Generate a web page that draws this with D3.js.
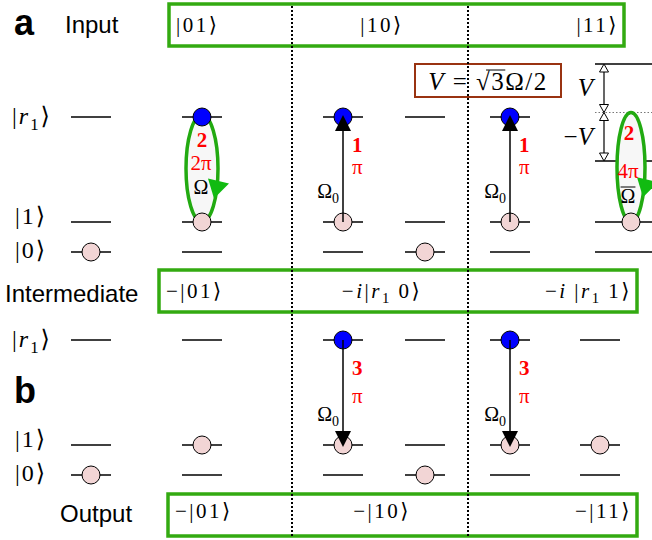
<!DOCTYPE html>
<html>
<head>
<meta charset="utf-8">
<script src="https://cdn.jsdelivr.net/npm/d3@7"></script>
<style>
  body { margin: 0; background: #fff; }
  svg { display: block; }
  .math { font-family: 'Liberation Serif', 'DejaVu Serif', serif; }
  .sans { font-family: 'Liberation Sans', Arial, sans-serif; }
</style>
</head>
<body>
<svg id="chart" width="652" height="540"></svg>
<script>
// ---------- data ----------
// mini markup: *x* = italic, _c = subscript of one char
const levels = ['r1', '1', '0'];
const levelLabels = ['|*r*_1⟩', '|1⟩', '|0⟩'];
const columns = [0, 1, 2, 3, 4, 5];

const stageNames = ['Input', 'Intermediate', 'Output'];
const inputStates = ['|01⟩', '|10⟩', '|11⟩'];
const intermediateStates = ['−|01⟩', '−*i*|*r*_1\u20090⟩', '−*i*\u2009|*r*_1\u20091⟩'];
const outputStates = ['−|01⟩', '−|10⟩', '−|11⟩'];

// occupied levels per column
const atomsA = [
    { col: 0, level: '0' },
    { col: 1, level: 'r1' }, { col: 1, level: '1' },
    { col: 2, level: 'r1' }, { col: 2, level: '1' },
    { col: 3, level: '0' },
    { col: 4, level: 'r1' }, { col: 4, level: '1' },
    { col: 5, level: '1' }
];
const atomsB = [
    { col: 0, level: '0' },
    { col: 1, level: '1' },
    { col: 2, level: 'r1' }, { col: 2, level: '1' },
    { col: 3, level: '0' },
    { col: 4, level: 'r1' }, { col: 4, level: '1' },
    { col: 5, level: '1' }
];

// laser pulses: step number, pulse area, Rabi frequency
const pulsesA = [
    { col: 1, kind: 'loop', step: '2', area: '2π', rabi: 'Ω', bar: false },
    { col: 2, kind: 'up', step: '1', area: 'π', rabi: 'Ω_0' },
    { col: 4, kind: 'up', step: '1', area: 'π', rabi: 'Ω_0' },
    { col: 5, kind: 'loop', step: '2', area: '4π', rabi: 'Ω', bar: true }
];
const pulsesB = [
    { col: 2, kind: 'down', step: '3', area: 'π', rabi: 'Ω_0' },
    { col: 4, kind: 'down', step: '3', area: 'π', rabi: 'Ω_0' }
];

// blockade-shifted Rydberg levels (units of V) and their labels
const shiftValues = [1, 0, -1];
const shiftLabels = ['*V*', '−*V*'];
const blockadeText = '*V* = √3Ω/2';

// ---------- layout ----------
const svg = d3.select('#chart');
const green = '#33aa11';
const pink = '#f2d5d5';

const xA = d3.scaleOrdinal().domain(columns).range([91, 202, 343, 425, 510, 631]);
const xB = d3.scaleOrdinal().domain(columns).range([91, 202, 343, 425, 510, 600]);
const yLevel = d3.scaleOrdinal().domain(levels).range([0, 105, 135]);
const yShift = d3.scaleLinear().domain([-1, 1]).range([44, -53]);
const levelLabelDy = { r1: 7, '1': 2, '0': 6 };

const panels = [
    { name: 'a', top: 117, x: xA, atoms: atomsA, pulses: pulsesA, shifted: true, nameY: 35, piDy: 57 },
    { name: 'b', top: 340, x: xB, atoms: atomsB, pulses: pulsesB, shifted: false, nameY: 403, piDy: 63 }
];

const stages = [
    { name: stageNames[0], states: inputStates, x0: 169, x1: 624, y0: 4, y1: 46, base: 32, lx: 65, ly: 33 },
    { name: stageNames[1], states: intermediateStates, x0: 159, x1: 637, y0: 270, y1: 312, base: 298, lx: 5, ly: 302 },
    { name: stageNames[2], states: outputStates, x0: 168, x1: 637, y0: 494, y1: 536, base: 518, lx: 60, ly: 522 }
];
const dividers = [292, 468];

// ---------- helpers ----------
function parseMath(s) {
    const segs = [];
    let it = false, buf = '';
    const flush = () => { if (buf) segs.push({ t: buf, it }); buf = ''; };
    for (let i = 0; i < s.length; i++) {
        const c = s[i];
        if (c === '*') { flush(); it = !it; }
        else if (c === '_') { flush(); segs.push({ t: s[i + 1], it: false, sub: true }); i++; }
        else buf += c;
    }
    flush();
    return segs;
}

function mathText(g, str, x, y, size, anchor = 'start', color = '#000') {
    const t = g.append('text')
        .attr('class', 'math')
        .attr('x', x).attr('y', y)
        .attr('font-size', size)
        .attr('text-anchor', anchor)
        .attr('fill', color);
    let down = false;
    parseMath(str).forEach(s => {
        const ts = t.append('tspan').text(s.t);
        if (s.it) ts.attr('font-style', 'italic');
        if (s.sub) {
            ts.attr('font-size', size * 0.7).attr('dy', size * 0.25);
            down = true;
        } else if (down) {
            ts.attr('dy', -size * 0.25);
            down = false;
        }
    });
    return t;
}

// ---------- drawing ----------
panels.forEach(p => {
    const g = svg.append('g').attr('transform', `translate(0,${p.top})`);

    // panel letter
    svg.append('text').attr('class', 'sans')
        .attr('x', 14).attr('y', p.nameY)
        .attr('font-size', 36).attr('font-weight', 'bold')
        .text(p.name);

    // level names on the left
    levels.forEach((lv, i) => {
        mathText(g, levelLabels[i], lv === 'r1' ? 12 : 15, yLevel(lv) + levelLabelDy[lv], 24)
            .attr('letter-spacing', 2);
    });

    // energy levels for every column
    columns.forEach(c => {
        const cx = p.x(c);
        levels.forEach(lv => {
            const wide = p.shifted && c === 5;
            if (wide && lv === 'r1') return;
            g.append('line')
                .attr('x1', wide ? 595 : cx - 20).attr('x2', wide ? 660 : cx + 20)
                .attr('y1', yLevel(lv)).attr('y2', yLevel(lv))
                .attr('stroke', '#000').attr('stroke-width', 1.5);
        });
    });

    // blockade shifted Rydberg level (only in panel a, last column)
    if (p.shifted) {
        const sg = g.append('g');
        shiftValues.forEach(v => {
            sg.append('line')
                .attr('x1', 595).attr('x2', 660)
                .attr('y1', yShift(v)).attr('y2', yShift(v))
                .attr('stroke', v === 0 ? '#777' : '#000')
                .attr('stroke-width', v === 0 ? 1 : 1.5)
                .attr('stroke-dasharray', v === 0 ? '1.5,2' : null);
        });
        const ax = 604;
        const head = (y, dir) => sg.append('path')
            .attr('d', `M${ax},${y} L${ax - 4.5},${y - dir * 8} L${ax + 4.5},${y - dir * 8} Z`)
            .attr('fill', '#fff').attr('stroke', '#000').attr('stroke-width', 1);
        d3.pairs(shiftValues).forEach(([hi, lo], i) => {
            const y1 = yShift(hi), y2 = yShift(lo);
            sg.append('line').attr('x1', ax).attr('x2', ax)
                .attr('y1', y1 + 6).attr('y2', y2 - 6)
                .attr('stroke', '#000').attr('stroke-width', 1.2);
            head(y1, -1);
            head(y2, 1);
            mathText(sg, shiftLabels[i], 593, (y1 + y2) / 2 + 8, 25, 'end');
        });

        // V = sqrt(3) Omega / 2 box
        sg.append('rect')
            .attr('x', 415).attr('y', 64 - p.top).attr('width', 146).attr('height', 33)
            .attr('fill', '#fff').attr('stroke', '#993311').attr('stroke-width', 2);
        const vt = mathText(sg, blockadeText, 488, 90 - p.top, 25, 'middle')
            .attr('letter-spacing', 1.5);
        const i3 = blockadeText.replace(/\*/g, '').indexOf('3');
        const n = vt.node();
        const s0 = n.getStartPositionOfChar(i3 - 1), e3 = n.getEndPositionOfChar(i3);
        sg.append('line')
            .attr('x1', s0.x + 10).attr('x2', e3.x)
            .attr('y1', 90 - p.top - 20).attr('y2', 90 - p.top - 20)
            .attr('stroke', '#000').attr('stroke-width', 1);
    }

    // 2pi / 4pi loops behind the atoms
    p.pulses.filter(d => d.kind === 'loop').forEach(d => {
        const cx = p.x(d.col);
        const top = p.shifted && d.col === 5 ? yShift(0) : yLevel('r1') - 2;
        const bot = yLevel('1');
        const cy = (top + bot) / 2, ry = (bot - top) / 2, rx = d.bar ? 14 : 16;
        g.append('ellipse')
            .attr('cx', cx).attr('cy', cy).attr('rx', rx).attr('ry', ry)
            .attr('fill', '#f7f7f7').attr('stroke', '#22aa11').attr('stroke-width', 3.5);
        g.append('path')
            .attr('d', `M${cx + 6},${cy + 10} L${cx + 27},${cy + 15} L${cx + 12},${cy + 30} Z`)
            .attr('fill', '#11bb11');
        const dys = d.bar ? [23, 61, 86] : [30, 53, 77];
        const lx = d.bar ? cx - 2 : cx;
        mathText(g, d.step, lx, dys[0], 21, 'middle', '#f00').attr('font-weight', 'bold');
        mathText(g, d.area, lx - 1, dys[1], 21, 'middle', '#f00');
        const om = mathText(g, d.rabi, lx - 1, dys[2], 20, 'middle');
        if (d.bar) {
            const b = om.node().getBBox();
            g.append('line')
                .attr('x1', b.x).attr('x2', b.x + b.width)
                .attr('y1', dys[2] - 16).attr('y2', dys[2] - 16)
                .attr('stroke', '#000').attr('stroke-width', 1);
        }
    });

    // atoms
    g.selectAll('circle.atom').data(p.atoms).join('circle')
        .attr('class', 'atom')
        .attr('cx', d => p.x(d.col))
        .attr('cy', d => yLevel(d.level))
        .attr('r', 9)
        .attr('fill', d => d.level === 'r1' ? '#0000ff' : pink)
        .attr('stroke', '#000').attr('stroke-width', 1);

    // pi pulses between |1> and |r1>
    p.pulses.filter(d => d.kind !== 'loop').forEach(d => {
        const cx = p.x(d.col);
        const up = d.kind === 'up';
        const from = up ? yLevel('1') : yLevel('r1');
        const tip = up ? yLevel('r1') - 2 : yLevel('1') + 2;
        const dir = up ? -1 : 1;
        const base = tip - dir * 16;
        g.append('line').attr('x1', cx).attr('x2', cx)
            .attr('y1', from).attr('y2', base)
            .attr('stroke', '#000').attr('stroke-width', 1.5);
        g.append('path')
            .attr('d', `M${cx},${tip} L${cx - 8},${base} L${cx + 8},${base} Z`)
            .attr('fill', '#000');
        mathText(g, d.step, cx + 9, 35, 21, 'start', '#f00').attr('font-weight', 'bold');
        mathText(g, d.area, cx + 9, p.piDy, 21, 'start', '#f00');
        mathText(g, d.rabi, cx - 4, 81, 20, 'end');
    });
});

// stage boxes with the two-atom states
stages.forEach(s => {
    svg.append('text').attr('class', 'sans')
        .attr('x', s.lx).attr('y', s.ly)
        .attr('font-size', 24)
        .text(s.name);
    svg.append('rect')
        .attr('x', s.x0).attr('y', s.y0)
        .attr('width', s.x1 - s.x0).attr('height', s.y1 - s.y0)
        .attr('fill', 'none').attr('stroke', green).attr('stroke-width', 3.5);
    const xs = [s.x0 + 7, (dividers[0] + dividers[1]) / 2 + 2, s.x1 - 5];
    const anchors = ['start', 'middle', 'end'];
    s.states.forEach((st, i) => {
        mathText(svg, st, xs[i], s.base, 21, anchors[i]).attr('letter-spacing', 2.5);
    });
});

// dotted separators between the three input cases
dividers.forEach(x => {
    svg.append('line')
        .attr('x1', x).attr('x2', x).attr('y1', 6).attr('y2', 536)
        .attr('stroke', '#000').attr('stroke-width', 2)
        .attr('stroke-dasharray', '2,2');
});
</script>
</body>
</html>
